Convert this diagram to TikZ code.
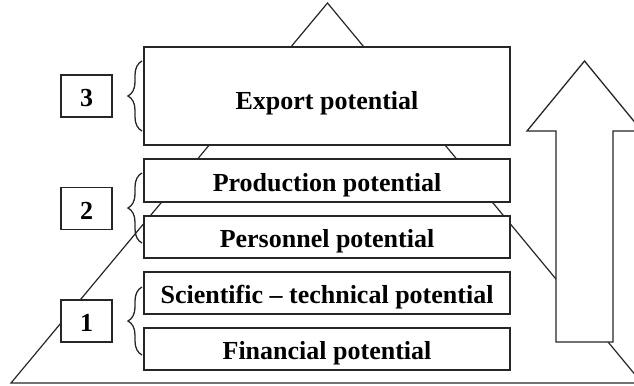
\documentclass[tikz,border=0pt]{standalone}
\usepackage{fontspec}
\setmainfont{Liberation Serif}
\usetikzlibrary{decorations.pathreplacing}
\begin{document}
\begin{tikzpicture}[x=1bp,y=-1bp,
  level/.style={draw=black!85, line width=1.4bp, fill=white},
  label/.style={anchor=base, font=\fontsize{26bp}{30bp}\selectfont\bfseries},
  numbox/.style={draw=black!85, line width=1.4bp, fill=white, minimum width=51bp, minimum height=42bp, inner sep=0pt,
    text height=21bp, text depth=0bp, font=\fontsize{26bp}{30bp}\selectfont\bfseries},
  curly/.style={draw=black!85, line width=1.3bp, decorate, decoration={brace, amplitude=14bp}},
  outline/.style={draw=black!85, line width=1.2bp}]
\useasboundingbox (0,0) rectangle (634,385);
\begin{scope}
\clip (0,0) rectangle (634,385);
% pyramid in the background
\coordinate (apex) at (327.5,3);
\coordinate (bl) at (11,383);
\coordinate (br) at (642,383);
\draw[outline, line join=miter] (apex) -- (bl) -- (br) -- cycle;
% levels of the pyramid
\draw[level] (144,47) rectangle (510,145);
\draw[level] (144,159) rectangle (510,202);
\draw[level] (144,216) rectangle (510,258);
\draw[level] (144,272) rectangle (510,314);
\draw[level] (144,328) rectangle (510,370);
\node[label] (exp) at (327,109) {Export potential};
\node[label] (prod) at (327,191) {Production potential};
\node[label] (pers) at (327,247) {Personnel potential};
\node[label] (sci) at (327,303) {Scientific – technical potential};
\node[label] (fin) at (327,359) {Financial potential};
% growth arrow
\draw[outline, fill=white, line width=1.3bp]
  (556,342) -- (556,131) -- (527,131) -- (584.5,61) -- (642,131) -- (613,131) -- (613,342) -- cycle;
\end{scope}
% stage numbers with braces
\node[numbox] (n3) at (86.5,96) {3};
\node[numbox] (n2) at (86.5,208.5) {2};
\node[numbox] (n1) at (86.5,321) {1};
\draw[curly] (142,131) -- (142,61);
\draw[curly] (142,243) -- (142,173);
\draw[curly] (142,355) -- (142,287);
\end{tikzpicture}
\end{document}
